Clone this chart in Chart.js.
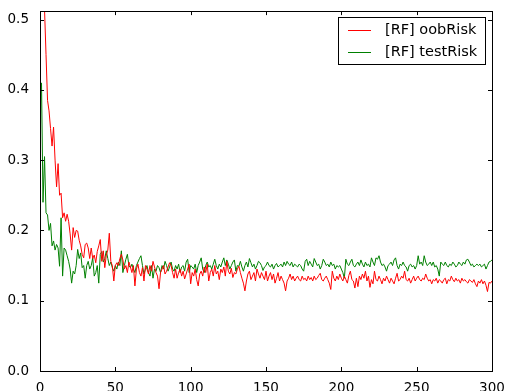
<!DOCTYPE html>
<html>
<head>
<meta charset="utf-8">
<script src="https://cdn.jsdelivr.net/npm/chart.js@4/dist/chart.umd.min.js"></script>
<style>
  html, body { margin: 0; padding: 0; background: #fff; }
  canvas { display: block; }
</style>
</head>
<body>
<canvas id="chart" width="511" height="391"></canvas>
<script>
// series values, one per forest size (1..300 trees)
const oobRisk = [
  0.62, 0.57, 0.515, 0.45, 0.385, 0.37, 0.345, 0.32, 0.347, 0.30,
  0.262, 0.295, 0.25, 0.253, 0.218, 0.225, 0.213, 0.223, 0.213, 0.195,
  0.172, 0.204, 0.19, 0.200, 0.199, 0.186, 0.178, 0.166, 0.161, 0.18,
  0.182, 0.175, 0.160, 0.175, 0.160, 0.165, 0.154, 0.17, 0.178, 0.187,
  0.156, 0.171, 0.147, 0.165, 0.172, 0.196, 0.156, 0.150, 0.128, 0.150,
  0.154, 0.150, 0.160, 0.166, 0.158, 0.145, 0.150, 0.140, 0.155, 0.148,
  0.140, 0.150, 0.121, 0.145, 0.152, 0.140, 0.135, 0.147, 0.128, 0.150,
  0.145, 0.138, 0.150, 0.142, 0.156, 0.148, 0.140, 0.135, 0.117, 0.140,
  0.145, 0.150, 0.138, 0.142, 0.148, 0.154, 0.150, 0.140, 0.132, 0.145,
  0.132, 0.140, 0.145, 0.135, 0.142, 0.131, 0.138, 0.145, 0.152, 0.124,
  0.140, 0.135, 0.145, 0.130, 0.121, 0.138, 0.142, 0.135, 0.148, 0.140,
  0.152, 0.128, 0.140, 0.145, 0.135, 0.150, 0.138, 0.142, 0.130, 0.145,
  0.140, 0.148, 0.135, 0.156, 0.142, 0.138, 0.146, 0.133, 0.140, 0.138,
  0.145, 0.149, 0.140, 0.132, 0.125, 0.114, 0.128, 0.138, 0.142, 0.130,
  0.135, 0.140, 0.128, 0.145, 0.138, 0.132, 0.140, 0.135, 0.130, 0.142,
  0.128, 0.135, 0.140, 0.130, 0.138, 0.125, 0.132, 0.140, 0.128, 0.135,
  0.130, 0.125, 0.114, 0.128, 0.132, 0.138, 0.130, 0.135, 0.128, 0.132,
  0.135, 0.130, 0.128, 0.135, 0.130, 0.132, 0.128, 0.135, 0.130, 0.133,
  0.128, 0.135, 0.130, 0.132, 0.136, 0.139, 0.130, 0.128, 0.132, 0.135,
  0.130, 0.125, 0.116, 0.142, 0.132, 0.128, 0.135, 0.130, 0.138, 0.132,
  0.128, 0.135, 0.130, 0.125, 0.136, 0.142, 0.130, 0.128, 0.118, 0.132,
  0.120, 0.135, 0.130, 0.138, 0.132, 0.142, 0.128, 0.135, 0.119, 0.130,
  0.124, 0.142, 0.130, 0.128, 0.135, 0.130, 0.124, 0.132, 0.128, 0.135,
  0.130, 0.125, 0.132, 0.128, 0.124, 0.132, 0.139, 0.128, 0.130, 0.135,
  0.132, 0.142, 0.130, 0.128, 0.132, 0.125, 0.130, 0.135, 0.128, 0.132,
  0.135, 0.130, 0.128, 0.132, 0.130, 0.138, 0.132, 0.128, 0.130, 0.124,
  0.130, 0.128, 0.132, 0.125, 0.130, 0.128, 0.125, 0.130, 0.132, 0.124,
  0.130, 0.128, 0.135, 0.130, 0.127, 0.132, 0.128, 0.130, 0.125, 0.132,
  0.128, 0.130, 0.127, 0.125, 0.130, 0.128, 0.126, 0.130, 0.124, 0.120,
  0.128, 0.125, 0.130, 0.124, 0.128, 0.122, 0.113, 0.126, 0.125, 0.128
];

const testRisk = [
  0.41, 0.24, 0.305, 0.225, 0.222, 0.20, 0.21, 0.178, 0.185, 0.172,
  0.18, 0.175, 0.149, 0.218, 0.135, 0.175, 0.172, 0.164, 0.156, 0.145,
  0.125, 0.142, 0.138, 0.150, 0.173, 0.160, 0.168, 0.147, 0.150, 0.132,
  0.150, 0.156, 0.145, 0.150, 0.161, 0.135, 0.140, 0.150, 0.125, 0.166,
  0.170, 0.155, 0.160, 0.171, 0.160, 0.150, 0.155, 0.147, 0.142, 0.150,
  0.145, 0.155, 0.150, 0.171, 0.140, 0.150, 0.159, 0.166, 0.150, 0.147,
  0.152, 0.145, 0.140, 0.150, 0.155, 0.160, 0.164, 0.150, 0.138, 0.145,
  0.150, 0.140, 0.135, 0.150, 0.132, 0.145, 0.142, 0.150, 0.147, 0.140,
  0.150, 0.145, 0.156, 0.150, 0.142, 0.148, 0.155, 0.145, 0.142, 0.150,
  0.145, 0.152, 0.140, 0.148, 0.150, 0.142, 0.155, 0.159, 0.140, 0.150,
  0.148, 0.145, 0.152, 0.140, 0.150, 0.155, 0.161, 0.145, 0.140, 0.150,
  0.155, 0.148, 0.150, 0.145, 0.152, 0.159, 0.150, 0.145, 0.152, 0.148,
  0.155, 0.161, 0.150, 0.158, 0.152, 0.145, 0.150, 0.155, 0.158, 0.142,
  0.150, 0.149, 0.156, 0.148, 0.142, 0.150, 0.155, 0.148, 0.160, 0.154,
  0.148, 0.152, 0.145, 0.150, 0.156, 0.154, 0.150, 0.143, 0.148, 0.150,
  0.155, 0.150, 0.148, 0.152, 0.145, 0.150, 0.153, 0.148, 0.150, 0.152,
  0.148, 0.155, 0.150, 0.156, 0.152, 0.150, 0.155, 0.148, 0.152, 0.150,
  0.148, 0.152, 0.150, 0.145, 0.142, 0.156, 0.159, 0.150, 0.156, 0.152,
  0.148, 0.160, 0.155, 0.150, 0.152, 0.145, 0.150, 0.159, 0.155, 0.150,
  0.152, 0.148, 0.155, 0.150, 0.152, 0.145, 0.150, 0.148, 0.150, 0.145,
  0.140, 0.132, 0.159, 0.152, 0.150, 0.155, 0.159, 0.150, 0.148, 0.152,
  0.155, 0.150, 0.158, 0.152, 0.148, 0.155, 0.150, 0.152, 0.148, 0.161,
  0.155, 0.150, 0.161, 0.159, 0.164, 0.155, 0.150, 0.152, 0.148, 0.142,
  0.150, 0.152, 0.155, 0.150, 0.158, 0.161, 0.150, 0.145, 0.152, 0.150,
  0.155, 0.150, 0.148, 0.142, 0.150, 0.152, 0.148, 0.150, 0.145, 0.150,
  0.164, 0.152, 0.155, 0.150, 0.164, 0.155, 0.150, 0.152, 0.155, 0.150,
  0.155, 0.148, 0.150, 0.145, 0.135, 0.155, 0.152, 0.150, 0.155, 0.150,
  0.148, 0.152, 0.150, 0.155, 0.152, 0.148, 0.150, 0.155, 0.152, 0.150,
  0.155, 0.152, 0.158, 0.159, 0.155, 0.150, 0.152, 0.148, 0.150, 0.152,
  0.150, 0.152, 0.148, 0.150, 0.152, 0.145, 0.150, 0.155, 0.156, 0.158
];

const seriesLabels = ['[RF] oobRisk', '[RF] testRisk'];
const xTicks = [0, 50, 100, 150, 200, 250, 300];
const yTicks = [0.0, 0.1, 0.2, 0.3, 0.4, 0.5];

const FONT = 'DejaVu Sans';

function toPoints(values) {
  return values.map((v, i) => ({ x: i + 1, y: v }));
}

// matplotlib-style frame with inward ticks on all four sides + boxed legend
const framePlugin = {
  id: 'frame',
  afterDraw(chart) {
    const ctx = chart.ctx;
    const a = chart.chartArea;
    const xs = chart.scales.x, ys = chart.scales.y;
    const tick = 4;
    ctx.save();
    ctx.strokeStyle = '#000';
    ctx.lineWidth = 1;
    ctx.beginPath();
    xTicks.forEach(v => {
      const px = Math.round(xs.getPixelForValue(v)) + 0.5;
      ctx.moveTo(px, a.bottom); ctx.lineTo(px, a.bottom - tick);
      ctx.moveTo(px, a.top); ctx.lineTo(px, a.top + tick);
    });
    yTicks.forEach(v => {
      const py = Math.round(ys.getPixelForValue(v)) + 0.5;
      ctx.moveTo(a.left, py); ctx.lineTo(a.left + tick, py);
      ctx.moveTo(a.right, py); ctx.lineTo(a.right - tick, py);
    });
    ctx.stroke();
    ctx.strokeRect(Math.round(a.left) + 0.5, Math.round(a.top) + 0.5,
      Math.round(a.right - a.left), Math.round(a.bottom - a.top));

    // legend
    const bx = 338.5, by = 17.5, bw = 147, bh = 47;
    ctx.fillStyle = '#fff';
    ctx.fillRect(bx, by, bw, bh);
    ctx.strokeStyle = '#000';
    ctx.strokeRect(bx, by, bw, bh);
    ctx.font = '14.5px "' + FONT + '"';
    ctx.textBaseline = 'middle';
    ctx.textAlign = 'left';
    chart.data.datasets.forEach((ds, i) => {
      const ly = 30.5 + i * 22;
      ctx.strokeStyle = ds.borderColor;
      ctx.beginPath();
      ctx.moveTo(348, ly); ctx.lineTo(371, ly);
      ctx.stroke();
      ctx.fillStyle = '#000';
      ctx.fillText(ds.label, 385, ly);
    });
    ctx.restore();
  }
};

new Chart(document.getElementById('chart'), {
  type: 'line',
  data: {
    datasets: [{
      label: seriesLabels[0],
      data: toPoints(oobRisk),
      borderColor: '#ff0000',
      borderWidth: 1,
      pointRadius: 0,
      tension: 0
    }, {
      label: seriesLabels[1],
      data: toPoints(testRisk),
      borderColor: '#008000',
      borderWidth: 1,
      pointRadius: 0,
      tension: 0
    }]
  },
  options: {
    responsive: false,
    animation: false,
    devicePixelRatio: 1,
    layout: { padding: { top: 9, right: 19, left: 0, bottom: 0 } },
    plugins: {
      legend: { display: false },
      tooltip: { enabled: false }
    },
    scales: {
      x: {
        type: 'linear',
        min: 0,
        max: 300,
        grid: { display: false },
        border: { display: false },
        afterBuildTicks: s => { s.ticks = xTicks.map(v => ({ value: v })); },
        afterFit: s => { s.height = 20; },
        ticks: {
          color: '#000',
          padding: 1,
          maxRotation: 0,
          font: { family: FONT, size: 13.5 },
          callback: v => String(v)
        }
      },
      y: {
        type: 'linear',
        min: 0,
        max: 0.512,
        grid: { display: false },
        border: { display: false },
        afterBuildTicks: s => { s.ticks = yTicks.map(v => ({ value: v })); },
        afterFit: s => { s.width = 40; },
        ticks: {
          color: '#000',
          padding: 3,
          font: { family: FONT, size: 13.5 },
          callback: v => v.toFixed(1)
        }
      }
    }
  },
  plugins: [framePlugin]
});
</script>
</body>
</html>
